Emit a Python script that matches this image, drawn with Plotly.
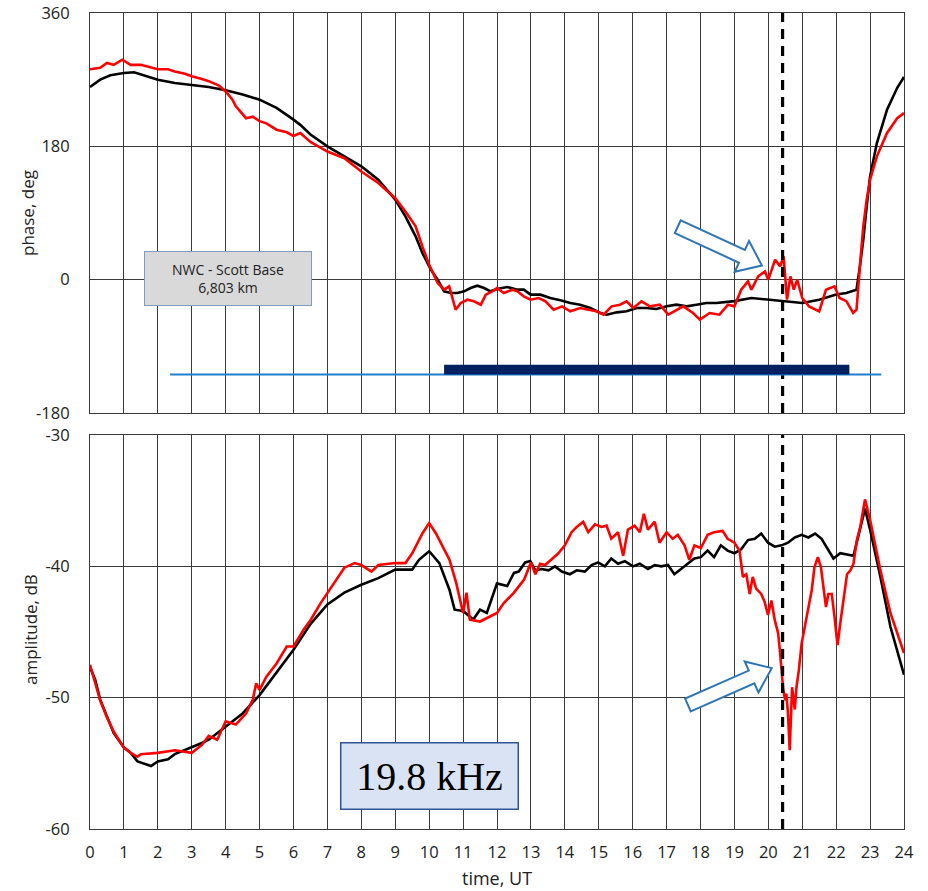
import plotly.graph_objects as go
import numpy as np

# ---------------- data ----------------
phase_black_t = [0, 0.3, 0.6, 1.0, 1.3, 1.6, 2.0, 2.5, 3.0, 3.5, 4.0, 4.5, 5.0, 5.5, 6.0, 6.2, 6.5, 7.0, 7.5, 8.0,
                 8.5, 9.0, 9.3, 9.6, 9.8, 10.05, 10.25, 10.44, 10.64, 10.83, 11.03, 11.22, 11.42, 11.62, 11.81,
                 12.0, 12.3, 12.6, 12.79, 12.99, 13.28, 13.57, 13.87, 14.16, 14.45, 14.75, 15.04, 15.24, 15.53,
                 15.82, 16.12, 16.41, 16.7, 17.0, 17.29, 17.59, 17.88, 18.17, 18.47, 18.76, 19.0, 19.5, 20.0,
                 20.5, 21.0, 21.5, 22.0, 22.3, 22.6, 22.7, 22.8, 22.9, 23.0, 23.2, 23.5, 23.8, 24.0]
phase_black_v = [260, 270, 276, 279, 280, 276, 270, 265.5, 263, 260, 255.6, 250, 243, 232, 216, 209, 196, 180, 166.5,
                 153, 135, 108, 85.5, 58.5, 36, 13.5, 0, -15.75, -18, -18, -15.75, -11.25, -8.1, -11.25, -15.75,
                 -12.6, -9.9, -13.5, -13.5, -20.25, -20.25, -24.75, -27.9, -31.5, -33.75, -38.25, -45, -47.25, -44.1,
                 -42.75, -38.25, -38.25, -39.6, -36, -33.75, -36, -33.75, -31.5, -31.5, -30.6, -29, -24.75, -27,
                 -29, -31.5, -27, -20, -18, -13.5, 18, 54, 99, 139.5, 184.5, 229.5, 259, 273.6]

phase_red_t = [0, 0.3, 0.5, 0.7, 0.95, 1.2, 1.5, 1.8, 2.0, 2.3, 2.5, 2.8, 3.0, 3.3, 3.5, 3.8, 4.0, 4.2, 4.3, 4.6,
               4.8, 5.0, 5.2, 5.5, 5.8, 6.0, 6.2, 6.5, 7.0, 7.5, 8.0, 8.5, 9.0, 9.3, 9.6, 9.8, 10.0, 10.25, 10.44,
               10.59, 10.78, 10.93, 11.13, 11.32, 11.52, 11.67, 11.86, 12.0, 12.2, 12.45, 12.6, 12.79, 12.99,
               13.23, 13.43, 13.67, 13.92, 14.16, 14.45, 14.7, 14.94, 15.14, 15.38, 15.63, 15.82, 16.02, 16.26,
               16.51, 16.8, 17.05, 17.29, 17.49, 17.78, 17.98, 18.27, 18.56, 18.81, 19.0, 19.2, 19.4, 19.5, 19.7,
               19.9, 20.0, 20.2, 20.35, 20.45, 20.55, 20.65, 20.75, 20.85, 21.0, 21.2, 21.5, 21.7, 21.95, 22.1,
               22.3, 22.5, 22.6, 22.7, 22.8, 22.9, 23.0, 23.2, 23.5, 23.8, 24.0]
phase_red_v = [284, 286, 292.5, 290, 297, 290, 290, 287, 284, 284, 281, 278, 274.5, 271, 268, 262, 254, 243, 234, 218,
               220, 214, 211, 202.5, 199, 194, 198, 186, 173, 164, 146, 130.5, 110, 92, 72, 45, 20, -4.5, -13.5,
               -9, -40.5, -31.5, -27, -29.25, -33.75, -20.25, -15.75, -11.25, -18, -13.5, -15.75, -22.5, -27,
               -24.75, -29.25, -40.5, -36, -42.75, -38.25, -40.5, -42.75, -47.25, -36, -33.75, -29.25, -38.25, -29.25,
               -36, -33.75, -47.25, -40.5, -36, -45, -54, -45, -47.25, -33.75, -36, -13.5, -2.25, -13.5, 4.5,
               11, 0, 27, 18, 31.5, -27, 4.5, -13.5, 0, -24.75, -36, -42.75, -13.5, -9, -24.75,
               -29, -45, -40.5, 18, 72, 108, 135, 166.5, 198, 218, 225]

amp_black_t = [0, 0.15, 0.3, 0.5, 0.7, 1.0, 1.2, 1.4, 1.7, 1.8, 2.0, 2.3, 2.5, 3.0, 3.3, 3.5, 4.0, 4.5, 5.0, 5.5,
               6.0, 6.5, 7.0, 7.5, 8.0, 8.5, 9.0, 9.5, 9.7, 10.0, 10.3, 10.6, 10.75, 11.0, 11.3, 11.5, 11.7, 12.0,
               12.3, 12.5, 12.64, 12.83, 12.98, 13.13, 13.32, 13.52, 13.71, 13.91, 14.15, 14.35, 14.59, 14.79,
               14.98, 15.18, 15.37, 15.57, 15.77, 16.01, 16.21, 16.45, 16.65, 16.84, 17.04, 17.23, 17.43, 17.62,
               17.82, 18.01, 18.21, 18.4, 18.6, 18.8, 19.0, 19.2, 19.4, 19.6, 19.79, 19.99, 20.19, 20.39, 20.58,
               20.78, 20.98, 21.18, 21.38, 21.57, 21.77, 21.92, 22.12, 22.32, 22.51, 22.7, 22.85, 23.0, 23.3,
               23.6, 24.0]
amp_black_v = [-47.7, -48.6, -50.15, -51.4, -52.7, -53.8, -54.2, -54.85, -55.1, -55.2, -54.85, -54.7, -54.3, -53.8,
               -53.45, -53.2, -52.2, -51.2, -49.8, -48.1, -46.35, -44.4, -42.9, -42.0, -41.4, -40.9, -40.25, -40.25,
               -39.5, -38.85, -39.75, -41.8, -43.3, -43.4, -44.05, -43.3, -43.55, -41.3, -41.5, -40.5, -40.4,
               -39.7, -39.6, -40.3, -40.2, -40.3, -40.0, -40.4, -40.6, -40.3, -40.4, -39.9, -39.7, -40.0, -39.4,
               -39.8, -39.6, -40.0, -39.8, -40.2, -39.9, -40.0, -39.9, -40.6, -40.2, -39.8, -39.4, -39.3, -38.8,
               -39.3, -38.4, -38.8, -39.0, -38.7, -38.0, -37.9, -37.5, -38.2, -38.5, -38.4, -38.2, -37.8, -37.6,
               -37.8, -37.5, -37.9, -38.8, -39.4, -39.0, -39.1, -39.2, -37.2, -35.6, -37.2, -40.75, -44.6, -48.25]

amp_red_t = [0, 0.3, 0.5, 0.7, 1.0, 1.2, 1.4, 1.5, 2.0, 2.5, 3.0, 3.3, 3.5, 3.75, 4.0, 4.3, 4.6, 4.8, 4.9, 5.0,
             5.2, 5.5, 5.8, 6.0, 6.3, 6.5, 6.8, 7.0, 7.3, 7.5, 7.8, 8.0, 8.3, 8.5, 9.0, 9.3, 9.5, 9.8, 10.0,
             10.2, 10.4, 10.6, 10.8, 11.0, 11.1, 11.2, 11.5, 11.8, 12.0, 12.2, 12.5, 12.8, 13.0, 13.13, 13.27,
             13.42, 13.62, 13.81, 14.0, 14.2, 14.35, 14.54, 14.69, 14.89, 15.08, 15.23, 15.37, 15.57, 15.72,
             15.86, 16.06, 16.21, 16.33, 16.45, 16.65, 16.79, 17.0, 17.18, 17.33, 17.53, 17.67, 17.82, 18.01,
             18.21, 18.4, 18.65, 18.8, 19.0, 19.15, 19.25, 19.35, 19.45, 19.54, 19.64, 19.79, 19.89, 19.99,
             20.09, 20.19, 20.29, 20.34, 20.39, 20.44, 20.5, 20.53, 20.58, 20.63, 20.7, 20.78, 20.83, 20.9,
             20.98, 21.08, 21.18, 21.28, 21.36, 21.46, 21.55, 21.62, 21.7, 21.77, 21.87, 21.95, 22.04, 22.12,
             22.22, 22.32, 22.42, 22.51, 22.61, 22.71, 22.85, 23.0, 23.3, 23.6, 24.0]
amp_red_v = [-47.5, -50.2, -51.5, -52.6, -53.8, -54.2, -54.5, -54.3, -54.2, -54.0, -54.2, -53.6, -52.9, -53.2,
             -51.8, -52.05, -51.2, -50.15, -48.9, -49.4, -48.4, -47.4, -46.1, -46.1, -44.8, -44.1, -42.8, -42.0,
             -40.8, -40.1, -39.75, -39.9, -40.4, -39.9, -39.75, -39.75, -39.0, -37.5, -36.7, -37.5, -38.5, -39.5,
             -41.3, -43.55, -42.0, -44.05, -44.2, -43.8, -43.55, -42.8, -42.0, -41.0, -39.7, -40.6, -39.8,
             -39.9, -39.4, -39.0, -38.4, -37.4, -37.0, -36.6, -37.4, -36.8, -37.0, -36.9, -37.9, -37.4, -39.2,
             -37.2, -36.9, -37.4, -36.0, -37.2, -36.6, -38.2, -37.4, -37.9, -37.6, -38.4, -39.5, -38.4, -38.6,
             -37.6, -37.4, -37.3, -37.9, -38.2, -38.8, -40.8, -40.6, -42.1, -40.8, -41.7, -42.1, -42.7, -43.7,
             -42.6, -44.1, -45.1, -46.4, -47.9, -49.4, -50.2, -49.7, -51.2, -54.0, -49.2, -50.9, -49.2, -47.9,
             -45.9, -44.6, -43.3, -41.8, -40.05, -39.3, -40.05, -41.3, -43.1, -42.1, -42.1, -43.8, -46.0, -44.35,
             -42.3, -40.6, -40.3, -39.8, -38.0, -37.0, -34.9, -36.45, -40.25, -43.55, -46.6]

x_ticks = list(range(0, 25))
phase_ticks = [-180, 0, 180, 360]
phase_tick_text = ["-180", "0", "180", "360"]
amp_ticks = [-60, -50, -40, -30]
amp_tick_text = ["-60", "-50", "-40", "-30"]

event_time = 20.42
bar_thin = (2.36, 23.33, -128)
bar_thick = (10.44, 22.39, -128, -115)

# ---------------- figure ----------------
W, H = 928, 891
ML, MR, MT, MB = 90, 24, 13, 62
top_dom = [0.5098, 1.0]
bot_dom = [0.0, 0.4828]
plot_w = W - ML - MR
plot_h = H - MT - MB

fig = go.Figure()
line_w = 2.6
fig.add_trace(go.Scatter(x=phase_black_t, y=phase_black_v, mode="lines", line=dict(color="black", width=line_w),
                         xaxis="x", yaxis="y", showlegend=False))
fig.add_trace(go.Scatter(x=phase_red_t, y=phase_red_v, mode="lines", line=dict(color="#ff0000", width=line_w),
                         xaxis="x", yaxis="y", showlegend=False))
fig.add_trace(go.Scatter(x=amp_black_t, y=amp_black_v, mode="lines", line=dict(color="black", width=line_w),
                         xaxis="x2", yaxis="y2", showlegend=False))
fig.add_trace(go.Scatter(x=amp_red_t, y=amp_red_v, mode="lines", line=dict(color="#ff0000", width=line_w),
                         xaxis="x2", yaxis="y2", showlegend=False))

grid = "#3a3a3a"
txt = "#222"
font_fam = "Open Sans, Lato, sans-serif"
ax_common = dict(showline=True, linecolor=grid, linewidth=1, mirror=True, showgrid=True, gridcolor=grid,
                 gridwidth=1, zeroline=False, automargin=False,
                 tickfont=dict(size=16.5, color=txt, family=font_fam))

fig.update_layout(
    width=W, height=H, margin=dict(l=ML, r=MR, t=MT, b=MB, autoexpand=False),
    paper_bgcolor="white", plot_bgcolor="white",
    xaxis=dict(range=[0, 24], tickvals=x_ticks, showticklabels=False, anchor="y", domain=[0, 1], **ax_common),
    yaxis=dict(range=[-180, 360], tickvals=phase_ticks, ticktext=phase_tick_text, domain=top_dom, anchor="x",
               ticklabelstandoff=16, **ax_common),
    xaxis2=dict(range=[0, 24], tickvals=x_ticks, anchor="y2", domain=[0, 1], ticklabelstandoff=8,
                **ax_common),
    yaxis2=dict(range=[-60, -30], tickvals=amp_ticks, ticktext=amp_tick_text, domain=bot_dom, anchor="x2",
                ticklabelstandoff=16, **ax_common),
)

# axis titles as text placed at the reference positions
fig.add_annotation(xref="paper", yref="paper", x=-63 / plot_w, y=(829 - 213) / plot_h, text="phase, deg",
                   xanchor="center", yanchor="middle",
                   textangle=-90, showarrow=False, font=dict(size=17, color=txt, family=font_fam))
fig.add_annotation(xref="paper", yref="paper", x=-60 / plot_w, y=(829 - 630) / plot_h, text="amplitude, dB",
                   xanchor="center", yanchor="middle",
                   textangle=-90, showarrow=False, font=dict(size=17, color=txt, family=font_fam))
fig.add_annotation(xref="paper", yref="paper", x=0.5, y=(829 - 878) / plot_h, text="time, UT",
                   xanchor="center", yanchor="middle", borderpad=0,
                   showarrow=False, font=dict(size=18, color=txt, family=font_fam))

# dashed event line in both panels
for xr, yr in (("x", "y domain"), ("x2", "y2 domain")):
    fig.add_shape(type="line", xref=xr, yref=yr, x0=event_time, x1=event_time, y0=0, y1=1,
                  line=dict(color="black", width=3.2, dash="10px,7px"))

# blue bars
fig.add_shape(type="line", xref="x", yref="y", x0=bar_thin[0], x1=bar_thin[1], y0=bar_thin[2], y1=bar_thin[2],
              line=dict(color="#1f7fcf", width=2))
fig.add_shape(type="rect", xref="x", yref="y", x0=bar_thick[0], x1=bar_thick[1], y0=bar_thick[2], y1=bar_thick[3],
              fillcolor="#002060", line=dict(width=0))

# hollow block arrows: computed in pixel space, converted to data coords
px_per_h = plot_w / 24.0
top_h_px = plot_h * (top_dom[1] - top_dom[0])
bot_h_px = plot_h * (bot_dom[1] - bot_dom[0])
px_per_deg = top_h_px / 540.0
px_per_db = bot_h_px / 30.0


def block_arrow(tail, tip, py_scale, shaft=14, head_w=34, head_len=22):
    tx, ty = tail[0] * px_per_h, -tail[1] * py_scale
    hx, hy = tip[0] * px_per_h, -tip[1] * py_scale
    d = np.array([hx - tx, hy - ty])
    L = np.linalg.norm(d)
    u = d / L
    n = np.array([-u[1], u[0]])
    t = np.array([tx, ty])
    b = t + u * (L - head_len)
    pts = [t + n * shaft / 2, b + n * shaft / 2, b + n * head_w / 2, np.array([hx, hy]),
           b - n * head_w / 2, b - n * shaft / 2, t - n * shaft / 2]
    path = "M " + " L ".join(f"{p[0] / px_per_h:.4f},{-p[1] / py_scale:.4f}" for p in pts) + " Z"
    return path


arrow_color = "#2e75b6"
fig.add_shape(type="path", xref="x", yref="y",
              path=block_arrow((17.33, 71.5), (19.81, 19.0), px_per_deg),
              line=dict(color=arrow_color, width=2), fillcolor="white")
fig.add_shape(type="path", xref="x2", yref="y2",
              path=block_arrow((17.63, -50.56), (20.1, -47.75), px_per_db),
              line=dict(color=arrow_color, width=2), fillcolor="white")

# text boxes
fig.add_annotation(xref="x", yref="y", x=4.07, y=2, text="NWC - Scott Base<br>6,803 km", showarrow=False,
                   font=dict(size=14, color=txt, family=font_fam), bgcolor="#d9d9d9",
                   bordercolor="#7f9cc0", borderwidth=1, width=164, height=51, align="center")
fig.add_annotation(xref="x2", yref="y2", x=10.02, y=-55.93, text="19.8 kHz", showarrow=False,
                   font=dict(size=40, color="black", family="Liberation Serif, serif"), bgcolor="#dae3f3",
                   bordercolor="#2f5597", borderwidth=1.5, width=174, height=63, align="center")

fig.write_html("out.html", config={"displayModeBar": False},
               post_script="document.body.style.margin='0px';")
